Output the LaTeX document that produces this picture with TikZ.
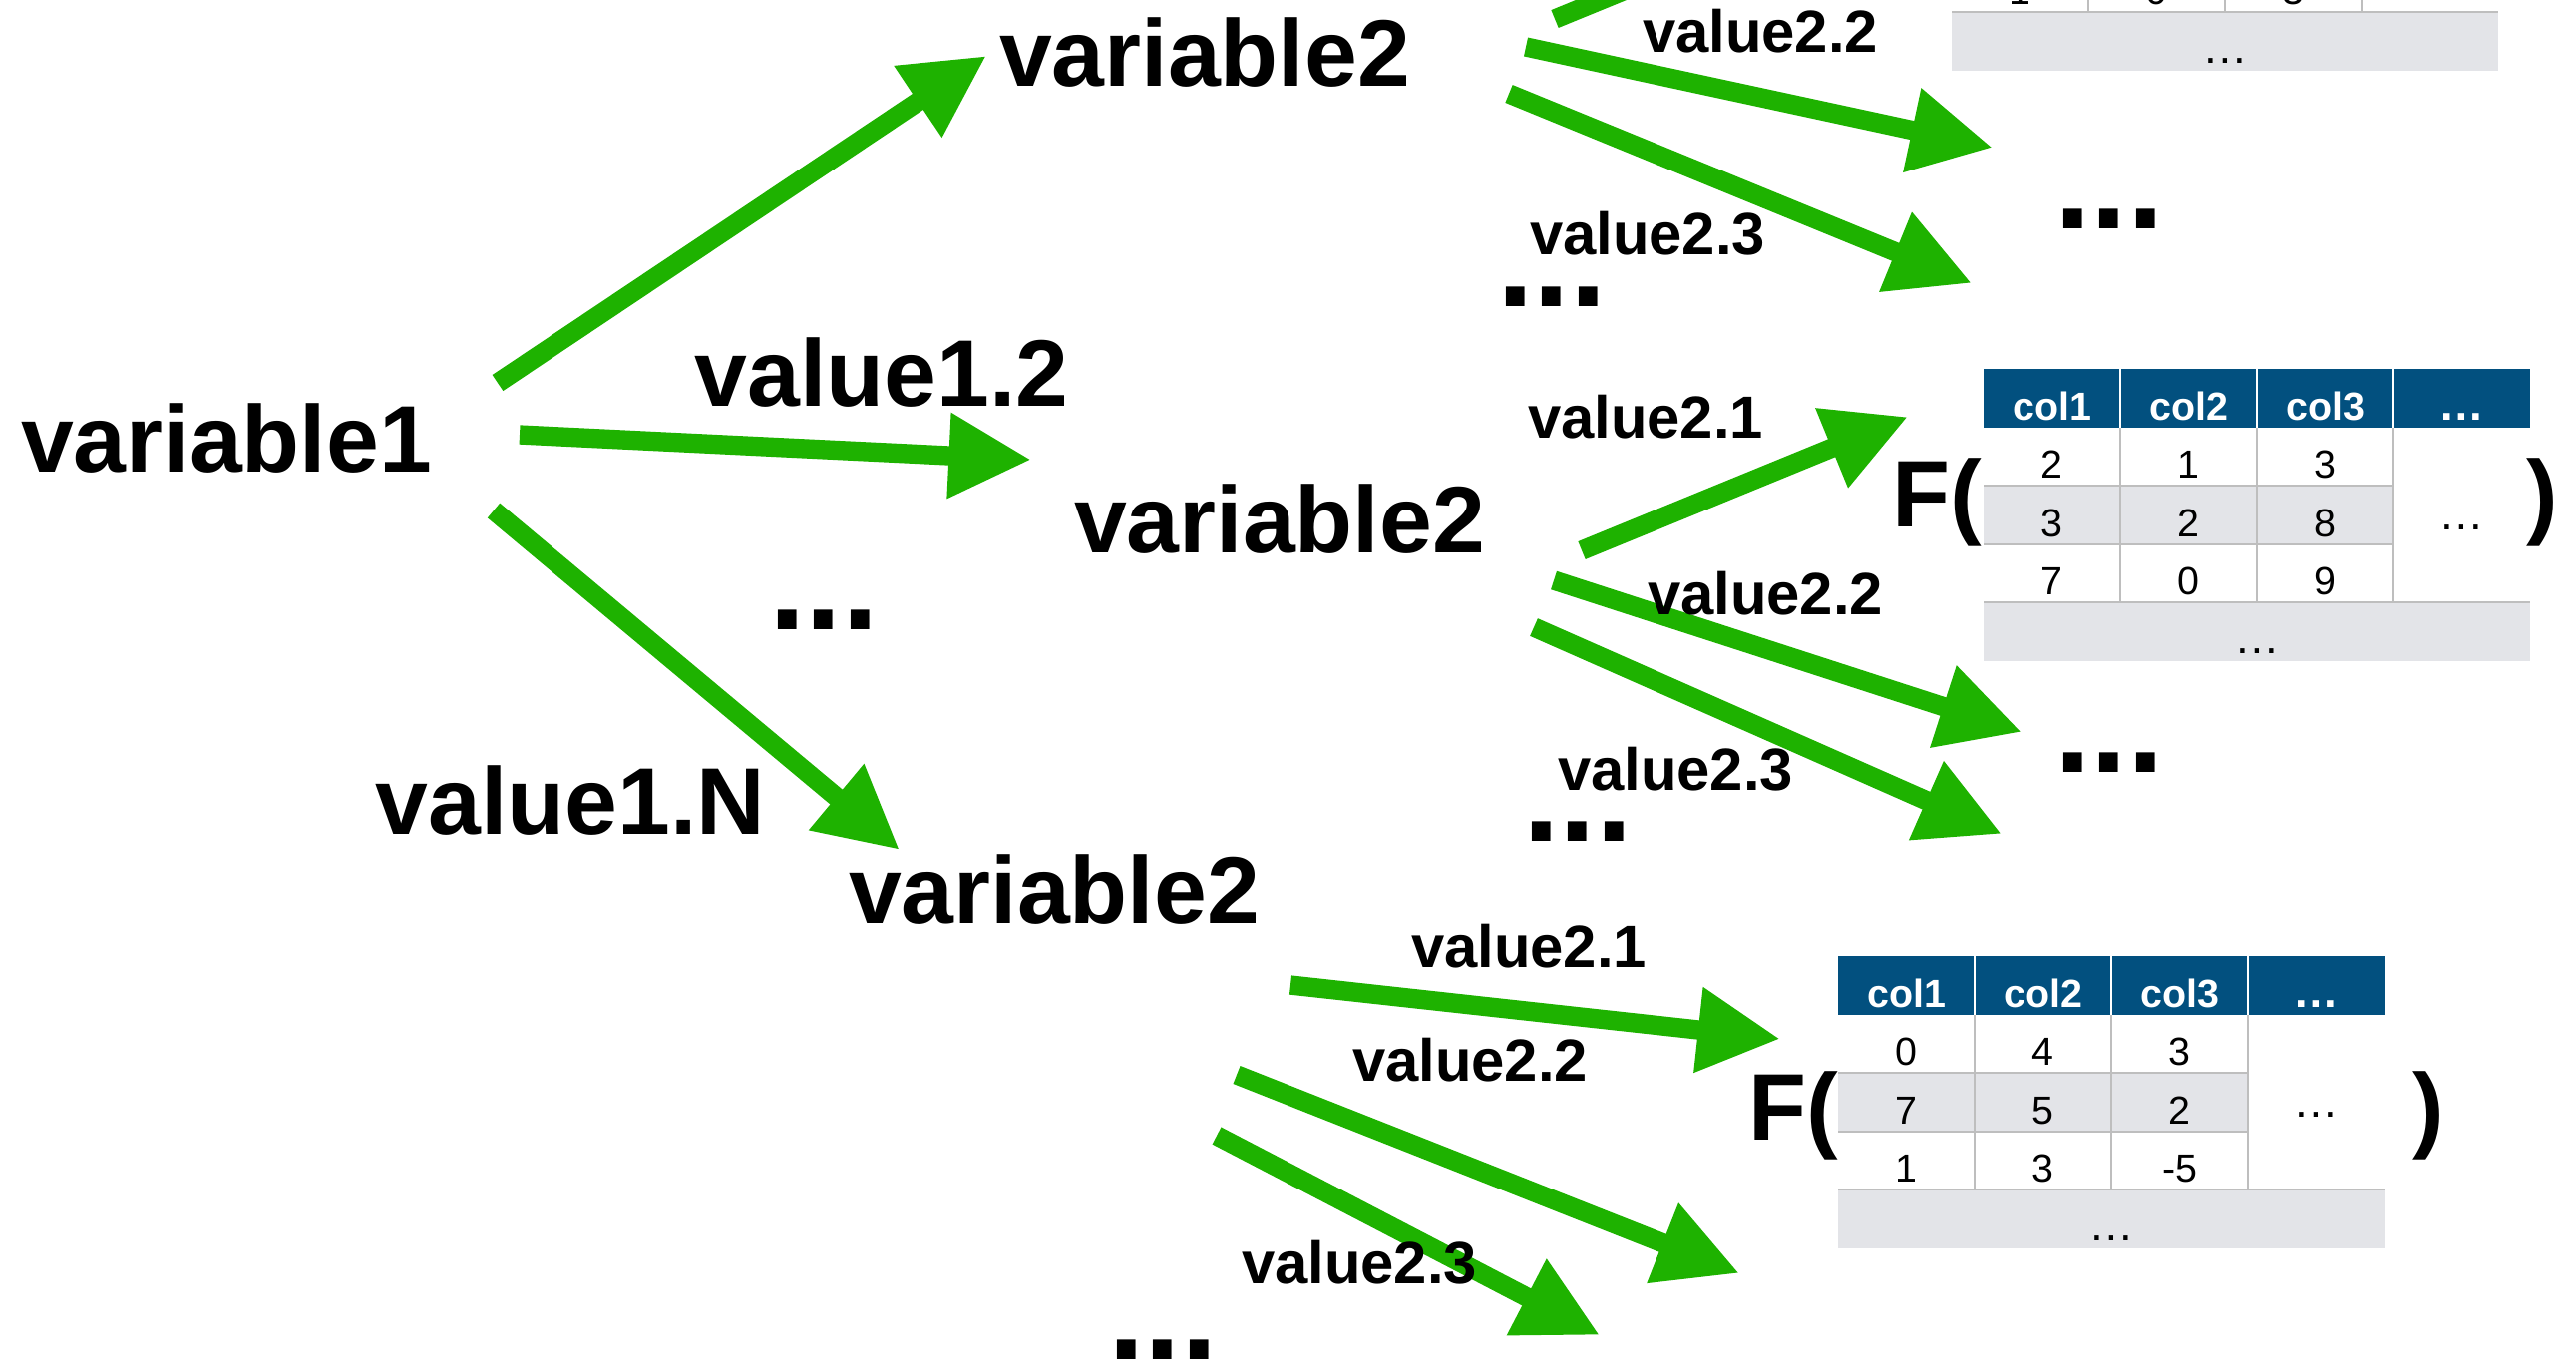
\documentclass[tikz,border=0pt]{standalone}
\usepackage{fontspec}
\setmainfont{Liberation Sans}
\usetikzlibrary{arrows.meta}

\definecolor{flowgreen}{RGB}{30,178,0}
\definecolor{headblue}{RGB}{2,80,127}
\definecolor{rowshade}{RGB}{227,228,232}
\definecolor{gridgray}{RGB}{190,190,190}

\tikzset{
  flow/.style={draw=flowgreen, line width=5.5pt, -{Triangle[length=23.5pt,width=23pt]}},
  bigword/.style={font=\fontsize{27}{32}\selectfont\bfseries, inner sep=0pt, anchor=base},
  smallword/.style={font=\fontsize{17}{20}\selectfont\bfseries, inner sep=0pt, anchor=base},
  bigdots/.style={font=\fontsize{37.5}{40}\selectfont\bfseries, inner sep=0pt, anchor=base,
    text height=0.15em, text depth=0pt},
  headtext/.style={font=\fontsize{11.2}{13}\selectfont\bfseries, text=white, inner sep=0pt, anchor=base},
  headdots/.style={font=\fontsize{13}{15}\selectfont\bfseries, text=white, inner sep=0pt, anchor=base},
  celltext/.style={font=\fontsize{11.2}{13}\selectfont, inner sep=0pt, anchor=base},
  celldots/.style={font=\fontsize{13}{15}\selectfont, inner sep=0pt, anchor=base},
  gridrule/.style={draw=gridgray, line width=0.65pt},
  headrule/.style={draw=white, line width=0.65pt},
  paren/.style={font=\fontsize{27}{32}\selectfont\bfseries, inner sep=0pt, anchor=base west},
}

% A data table: blue header, three numbered rows (middle one shaded),
% a dots column on the right and a shaded footer row.
\newcommand\datatable[9]{%
  \fill[headblue] (0,0) rectangle (548,59);
  \fill[rowshade] (0,117) rectangle (411,176);
  \fill[rowshade] (0,234) rectangle (548,293);
  \draw[gridrule] (0,117) -- (411,117) (0,176) -- (411,176) (0,234) -- (548,234)
        (137,59) -- (137,234) (274,59) -- (274,234) (411,59) -- (411,234);
  \draw[headrule] (137,0) -- (137,59) (274,0) -- (274,59) (411,0) -- (411,59);
  \node[headtext] (h1) at (68.5,51) {col1};
  \node[headtext] (h2) at (205.5,51) {col2};
  \node[headtext] (h3) at (342.5,51) {col3};
  \node[headdots] (h4) at (479.5,51) {…};
  \node[celltext] (r1c1) at (68.5,109) {#1};
  \node[celltext] (r1c2) at (205.5,109) {#2};
  \node[celltext] (r1c3) at (342.5,109) {#3};
  \node[celltext] (r2c1) at (68.5,168) {#4};
  \node[celltext] (r2c2) at (205.5,168) {#5};
  \node[celltext] (r2c3) at (342.5,168) {#6};
  \node[celltext] (r3c1) at (68.5,226) {#7};
  \node[celltext] (r3c2) at (205.5,226) {#8};
  \node[celltext] (r3c3) at (342.5,226) {#9};
  \node[celldots] (r2c4) at (479.5,161) {…};
  \node[celldots] (foot) at (274,285) {…};
}

\begin{document}
\begin{tikzpicture}[x=0.01cm, y=-0.01cm]
\useasboundingbox (0,0) rectangle (2583,1362);
\fill[white] (0,0) rectangle (2583,1362);
\clip (0,0) rectangle (2583,1362);

% ---- tables ----
% lower part of the first table (its upper rows run off the top edge)
\begin{scope}[shift={(1957,-222)}, name prefix=tt-]
  \fill[rowshade] (0,234) rectangle (548,293);
  \draw[gridrule] (0,234) -- (548,234)
        (137,176) -- (137,234) (274,176) -- (274,234) (411,176) -- (411,234);
  \node[celltext] (r3c1) at (68.5,226) {1};
  \node[celltext] (r3c2) at (205.5,226) {0};
  \node[celltext] (r3c3) at (342.5,226) {3};
  \node[celldots] (foot) at (274,285) {…};
\end{scope}

\begin{scope}[shift={(1989,370)}, name prefix=mt-]
  \datatable{2}{1}{3}{3}{2}{8}{7}{0}{9}
\end{scope}
\node[paren] (mt-open) at (1897,528) {F(};
\node[paren] (mt-close) at (2533,528) {)};

\begin{scope}[shift={(1843,959)}, name prefix=bt-]
  \datatable{0}{4}{3}{7}{5}{2}{1}{3}{-5}
\end{scope}
\node[paren] (bt-open) at (1753,1143) {F(};
\node[paren] (bt-close) at (2419,1143) {)};

% ---- arrow end points ----
\coordinate (v1-up)    at (499,384);  \coordinate (v2t-in) at (989,56);
\coordinate (v1-mid)   at (521,436);  \coordinate (v2m-in) at (1034,461);
\coordinate (v1-down)  at (495,512);  \coordinate (v2b-in) at (902,852);

\coordinate (v2t-o1) at (1559,19);    \coordinate (tt-in)   at (1886,-115);
\coordinate (v2t-o2) at (1530,47);    \coordinate (t2-in)   at (1998,148);
\coordinate (v2t-o3) at (1513,94);    \coordinate (t3-in)   at (1977,284);

\coordinate (v2m-o1) at (1586,552);   \coordinate (mt-in)   at (1913,418);
\coordinate (v2m-o2) at (1558,582);   \coordinate (m2-in)   at (2027,734);
\coordinate (v2m-o3) at (1538,629);   \coordinate (m3-in)   at (2007,836);

\coordinate (v2b-o1) at (1294,988);   \coordinate (bt-in)   at (1785,1042);
\coordinate (v2b-o2) at (1240,1078);  \coordinate (b2-in)   at (1744,1277);
\coordinate (v2b-o3) at (1220,1139);  \coordinate (b3-in)   at (1604,1339);

% ---- arrows ----
\draw[flow] (v1-up) -- (v2t-in);
\draw[flow] (v1-mid) -- (v2m-in);
\draw[flow] (v1-down) -- (v2b-in);
\draw[flow] (v2t-o1) -- (tt-in);
\draw[flow] (v2t-o2) -- (t2-in);
\draw[flow] (v2t-o3) -- (t3-in);
\draw[flow] (v2m-o1) -- (mt-in);
\draw[flow] (v2m-o2) -- (m2-in);
\draw[flow] (v2m-o3) -- (m3-in);
\draw[flow] (v2b-o1) -- (bt-in);
\draw[flow] (v2b-o2) -- (b2-in);
\draw[flow] (v2b-o3) -- (b3-in);

% ---- words ----
\node[bigword] (var1) at (227,473) {variable1};
\node[bigword] (var2top) at (1208,86) {variable2};
\node[bigword] (var2mid) at (1283,554) {variable2};
\node[bigword] (var2bot) at (1057,926) {variable2};
\node[bigword] (val12) at (884,407) {value1.2};
\node[bigword] (val1N) at (572,836) {value1.N};
\node[bigdots] (more1) at (826,631) {...};

\node[smallword] (t22) at (1765,52) {value2.2};
\node[smallword] (t23) at (1652,255) {value2.3};
\node[bigdots] (tmore) at (1556,307) {...};
\node[bigdots] (tnext) at (2115,229) {...};

\node[smallword] (m21) at (1650,439) {value2.1};
\node[smallword] (m22) at (1770,616) {value2.2};
\node[smallword] (m23) at (1680,792) {value2.3};
\node[bigdots] (mmore) at (1582,843) {...};
\node[bigdots] (mnext) at (2115,774) {...};

\node[smallword] (b21) at (1533,970) {value2.1};
\node[smallword] (b22) at (1474,1084) {value2.2};
\node[smallword] (b23) at (1363,1287) {value2.3};
\node[bigdots] (bmore) at (1166,1363) {...};
\end{tikzpicture}
\end{document}
